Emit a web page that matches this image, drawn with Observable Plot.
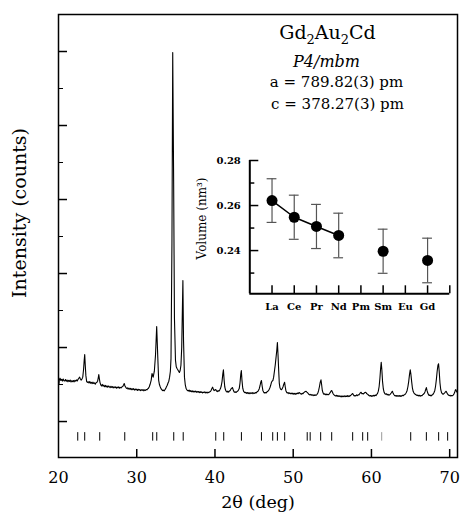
<!DOCTYPE html>
<html><head><meta charset="utf-8">
<script src="https://cdn.jsdelivr.net/npm/d3@7"></script>
<script src="https://cdn.jsdelivr.net/npm/@observablehq/plot@0.6"></script>
<style>
body{margin:0;background:#fff;}
#wrap{position:relative;width:460px;height:517px;overflow:hidden;}
#inset{position:absolute;left:190px;top:145px;}
</style></head><body><div id="wrap"><div id="main"></div><div id="inset"></div></div>
<script>
// Powder pattern: [2θ (deg), intensity (arb. counts)]
const pattern = [
[20.0,600],[20.05,500],[20.1,560],[20.2,585],[20.3,555],[20.4,570],[20.5,548],[20.6,575],[20.7,552],[20.8,548],
[20.9,568],[21.0,545],[21.1,560],[21.2,538],[21.3,556],[21.4,542],[21.5,560],[21.6,535],[21.7,552],[21.8,540],
[21.9,555],[22.0,536],[22.1,558],[22.2,545],[22.3,562],[22.4,548],[22.5,570],[22.6,585],[22.7,600],[22.8,575],
[22.9,560],[23.0,575],[23.1,600],[23.2,700],[23.28,820],[23.35,905],[23.42,760],[23.5,620],[23.6,540],[23.7,528],
[23.8,538],[23.9,520],[24.0,540],[24.1,518],[24.2,530],[24.3,512],[24.4,532],[24.5,515],[24.6,522],[24.7,505],
[24.8,525],[24.9,530],[25.0,545],[25.08,590],[25.15,635],[25.22,580],[25.3,530],[25.4,495],[25.5,480],[25.6,502],
[25.7,478],[25.8,492],[25.9,470],[26.0,488],[26.1,468],[26.2,482],[26.3,462],[26.4,480],[26.5,470],[26.6,458],
[26.7,476],[26.8,462],[26.9,472],[27.0,455],[27.1,470],[27.2,458],[27.3,468],[27.4,450],[27.5,466],[27.6,455],
[27.7,468],[27.8,450],[27.9,462],[28.0,455],[28.1,468],[28.2,472],[28.3,490],[28.4,514],[28.5,480],[28.6,462],
[28.7,448],[28.8,455],[28.9,438],[29.0,452],[29.1,436],[29.2,448],[29.3,430],[29.4,445],[29.5,432],[29.6,444],
[29.7,425],[29.8,440],[29.9,428],[30.0,438],[30.1,420],[30.2,436],[30.3,425],[30.4,432],[30.5,418],[30.6,430],
[30.7,420],[30.8,433],[30.9,415],[31.0,428],[31.1,420],[31.2,432],[31.3,428],[31.4,440],[31.5,450],[31.6,470],
[31.7,500],[31.85,560],[31.95,649],[32.1,600],[32.25,680],[32.4,900],[32.55,1284],[32.68,900],[32.8,560],[32.9,500],
[33.0,470],[33.1,445],[33.2,430],[33.3,418],[33.4,425],[33.5,415],[33.6,430],[33.7,445],[33.8,470],[33.9,490],
[34.0,520],[34.1,545],[34.2,600],[34.3,680],[34.38,850],[34.5,2400],[34.6,4986],[34.72,3200],[34.82,1400],[34.95,830],
[35.05,740],[35.15,716],[35.25,700],[35.35,680],[35.45,662],[35.55,690],[35.65,760],[35.75,1000],[35.9,1905],[35.98,1100],
[36.1,600],[36.2,500],[36.3,450],[36.4,428],[36.5,420],[36.6,412],[36.7,425],[36.8,405],[36.9,418],[37.0,402],
[37.1,415],[37.2,398],[37.3,412],[37.4,400],[37.5,410],[37.6,395],[37.7,408],[37.8,398],[37.9,405],[38.0,390],
[38.1,404],[38.2,392],[38.3,400],[38.4,386],[38.5,398],[38.6,390],[38.7,402],[38.8,388],[38.9,396],[39.0,385],
[39.1,398],[39.2,390],[39.3,400],[39.4,405],[39.5,420],[39.6,445],[39.7,464],[39.8,435],[39.9,418],[40.0,425],
[40.1,432],[40.2,412],[40.3,405],[40.4,418],[40.5,410],[40.6,425],[40.7,445],[40.8,480],[40.9,540],[41.0,640],
[41.08,699],[41.17,560],[41.25,470],[41.35,425],[41.45,405],[41.55,398],[41.65,410],[41.75,398],[41.85,412],[41.95,420],
[42.05,440],[42.15,452],[42.24,459],[42.33,430],[42.42,405],[42.5,395],[42.6,402],[42.7,392],[42.8,405],[42.9,410],
[43.0,425],[43.1,445],[43.2,520],[43.3,640],[43.37,689],[43.45,560],[43.55,450],[43.65,410],[43.75,395],[43.85,388],
[43.95,395],[44.05,380],[44.15,392],[44.25,378],[44.35,390],[44.45,375],[44.55,388],[44.65,380],[44.75,392],[44.85,376],
[44.95,388],[45.05,380],[45.15,392],[45.25,385],[45.35,398],[45.45,405],[45.55,418],[45.65,440],[45.75,480],[45.85,530],
[45.94,554],[46.03,480],[46.12,420],[46.22,398],[46.32,385],[46.42,392],[46.52,385],[46.62,398],[46.72,405],[46.82,418],
[46.92,432],[47.02,455],[47.12,490],[47.22,530],[47.32,548],[47.4,554],[47.5,600],[47.6,680],[47.7,760],[47.8,860],
[47.9,960],[47.98,1068],[48.06,900],[48.14,700],[48.22,520],[48.3,460],[48.4,435],[48.5,430],[48.6,445],[48.7,470],
[48.8,505],[48.9,531],[48.98,470],[49.06,420],[49.15,395],[49.25,385],[49.35,392],[49.45,378],[49.55,388],[49.65,375],
[49.75,385],[49.85,372],[49.95,383],[50.05,370],[50.15,380],[50.25,368],[50.35,382],[50.45,372],[50.55,385],[50.65,378],
[50.75,392],[50.85,385],[50.95,375],[51.05,370],[51.15,382],[51.25,376],[51.35,390],[51.45,398],[51.55,405],[51.65,409],
[51.75,398],[51.85,388],[51.95,372],[52.05,365],[52.15,358],[52.25,368],[52.35,355],[52.45,362],[52.55,350],[52.65,362],
[52.75,352],[52.85,360],[52.95,355],[53.05,368],[53.15,385],[53.25,420],[53.35,470],[53.45,530],[53.55,564],[53.63,500],
[53.72,420],[53.82,385],[53.92,368],[54.02,375],[54.12,362],[54.22,372],[54.32,360],[54.42,368],[54.52,362],[54.62,375],
[54.72,390],[54.82,410],[54.92,419],[55.02,395],[55.12,372],[55.22,360],[55.32,352],[55.42,345],[55.52,355],[55.62,340],
[55.72,352],[55.82,338],[55.92,348],[56.02,335],[56.12,346],[56.22,332],[56.32,345],[56.42,336],[56.52,348],[56.62,335],
[56.72,345],[56.82,338],[56.92,350],[57.02,336],[57.12,348],[57.22,340],[57.32,352],[57.42,360],[57.52,372],[57.6,378],
[57.7,360],[57.8,345],[57.9,352],[58.0,345],[58.1,360],[58.2,350],[58.3,362],[58.4,358],[58.5,375],[58.6,390],
[58.68,396],[58.78,375],[58.88,378],[58.98,372],[59.08,385],[59.18,392],[59.28,396],[59.38,378],[59.48,370],[59.58,362],
[59.68,352],[59.78,345],[59.88,352],[59.98,340],[60.08,350],[60.18,342],[60.28,355],[60.38,345],[60.48,358],[60.58,350],
[60.68,365],[60.78,380],[60.88,410],[60.98,470],[61.08,580],[61.16,700],[61.25,801],[61.33,700],[61.42,540],[61.52,440],
[61.62,395],[61.72,375],[61.82,368],[61.92,375],[62.02,360],[62.12,368],[62.22,355],[62.32,362],[62.42,370],[62.52,385],
[62.6,400],[62.68,409],[62.76,385],[62.86,365],[62.96,352],[63.06,345],[63.16,352],[63.26,340],[63.36,350],[63.46,342],
[63.56,352],[63.66,338],[63.76,350],[63.86,342],[63.96,355],[64.06,348],[64.16,360],[64.26,365],[64.36,375],[64.46,392],
[64.56,420],[64.66,470],[64.76,540],[64.86,630],[64.96,699],[65.04,640],[65.14,540],[65.24,450],[65.34,405],[65.44,385],
[65.54,372],[65.64,365],[65.74,358],[65.84,350],[65.94,358],[66.04,345],[66.14,355],[66.24,342],[66.34,352],[66.44,348],
[66.54,360],[66.64,368],[66.74,380],[66.84,400],[66.94,435],[67.02,459],[67.1,420],[67.2,385],[67.3,362],[67.4,352],
[67.5,358],[67.6,345],[67.7,355],[67.8,362],[67.9,372],[68.0,392],[68.1,420],[68.2,480],[68.3,570],[68.4,680],
[68.5,760],[68.58,780],[68.66,680],[68.76,520],[68.86,430],[68.96,390],[69.06,375],[69.16,368],[69.26,378],[69.36,388],
[69.46,400],[69.55,409],[69.64,390],[69.74,370],[69.84,358],[69.94,350],[70.04,355],[70.14,345],[70.24,352],[70.34,348],
[70.44,358],[70.54,370],[70.64,395],[70.72,425],[70.78,432],[70.86,410],[70.94,398],[71.0,405]
];
// Calculated reflection positions (2θ)
const reflections = [22.46,23.35,25.27,28.47,32.04,32.56,34.73,35.94,40.10,41.12,43.38,45.94,47.38,47.98,48.91,
  51.79,52.17,53.51,54.92,57.60,58.88,59.52,65.02,67.02,68.59,69.74];
const weakReflections = [61.31];
const xTicks = [20,30,40,50,60,70];
const xInnerTicks = [30,40,50,60,70];
const yMajor = [0,1000,2000,3000,4000,5000];
const yMinor = [500,1500,2500,3500,4500];
const xLabel = "2θ (deg)";
const yLabel = "Intensity (counts)";
const compound = "Gd2Au2Cd";
const spaceGroup = "P4/mbm";
const cellA = "a = 789.82(3) pm";
const cellC = "c = 378.27(3) pm";

// Inset: cell volume for RE2Au2Cd
const elements = ["La","Ce","Pr","Nd","Pm","Sm","Eu","Gd"];
const volumes = [0.2622,0.2548,0.2507,0.2467,null,0.2397,null,0.2356];
const volumeErrors = [0.0097,0.0098,0.0098,0.0099,null,0.0098,null,0.0099];
const insetYMajor = [0.24,0.26,0.28];
const insetYMinor = [0.23,0.25,0.27];
const insetXTicks = [1,2,3,4,5,6,7,8,9];
const insetYLabel = "Volume (nm³)";

const font = "'DejaVu Serif', serif";

const main = Plot.plot({
  width: 460, height: 517,
  marginLeft: 58, marginRight: 3, marginTop: 14, marginBottom: 60,
  style: {fontFamily: font, fontSize: "15px", background: "transparent", color: "black"},
  x: {domain: [20, 71]},
  y: {domain: [-486, 5500]},
  marks: [
    Plot.axisX({ticks: xTicks, tickSize: 0, tickPadding: 14, tickFormat: d => String(d), fontSize: 16, label: null}),
    Plot.axisY({ticks: [], label: null}),
    Plot.tickY(yMajor, {y: d => d, insetRight: 390, stroke: "black", strokeWidth: 1.5}),
    Plot.tickY(yMinor, {y: d => d, insetRight: 394, stroke: "black", strokeWidth: 1}),
    Plot.tickX(xInnerTicks, {x: d => d, insetTop: 435, stroke: "black", strokeWidth: 1.5}),
    Plot.ruleX(reflections, {x: d => d, y1: -265, y2: -150, stroke: "black", strokeWidth: 1}),
    Plot.ruleX(weakReflections, {x: d => d, y1: -265, y2: -150, stroke: "#999", strokeWidth: 1}),
    Plot.line(pattern, {x: d => d[0], y: d => d[1], stroke: "black", strokeWidth: 1.1}),
    Plot.frame({stroke: "black", strokeWidth: 1.5}),
    Plot.text([yLabel], {text: d => d, frameAnchor: "left", textAnchor: "middle", lineAnchor: "middle", rotate: -90, dx: -38.5, dy: -23, fontSize: 19}),
    Plot.text([xLabel], {text: d => d, frameAnchor: "bottom", lineAnchor: "middle", dy: 45, fontSize: 17.5}),
    Plot.text([compound], {text: d => d, frameAnchor: "top", lineAnchor: "middle", dx: 69.5, dy: 18, fontSize: 19}),
    Plot.text([spaceGroup], {text: d => d, frameAnchor: "top", lineAnchor: "middle", dx: 68.5, dy: 47, fontSize: 16, fontStyle: "italic"}),
    Plot.text([cellA], {text: d => d, frameAnchor: "top", lineAnchor: "middle", dx: 78.5, dy: 68, fontSize: 15}),
    Plot.text([cellC], {text: d => d, frameAnchor: "top", lineAnchor: "middle", dx: 79.5, dy: 90, fontSize: 15})
  ]
});
document.getElementById("main").appendChild(main);

// subscripts for the chemical formula
d3.select(main).selectAll("text").filter(function() { return this.textContent === compound; }).each(function() {
  const t = d3.select(this);
  t.text(null);
  let sub = false;
  for (const part of compound.split(/(\d)/).filter(s => s.length)) {
    const isDigit = /\d/.test(part);
    const span = t.append("tspan").text(part);
    if (isDigit) { span.attr("font-size", 13).attr("dy", 5); sub = true; }
    else if (sub) { span.attr("dy", -5); sub = false; }
  }
});

const vol = elements.map((e, i) => ({i: i + 1, e, v: volumes[i], err: volumeErrors[i]})).filter(d => d.v != null);
const connected = vol.filter(d => d.i <= 4);
const yMin = 0.2208;

const inset = Plot.plot({
  width: 265, height: 175,
  marginLeft: 59.3, marginRight: 5.7, marginTop: 15, marginBottom: 26.7,
  style: {fontFamily: font, fontSize: "10px", background: "transparent", color: "black"},
  x: {domain: [0, 9]},
  y: {domain: [yMin, 0.28]},
  marks: [
    Plot.axisY({ticks: insetYMajor, tickSize: 0, tickPadding: 9, tickFormat: d3.format(".2f"), fontWeight: "bold", fontSize: 10, label: null}),
    Plot.axisX({ticks: [1,2,3,4,5,6,7,8], tickSize: 0, tickPadding: 9, tickFormat: i => elements[i - 1], fontWeight: "bold", fontSize: 10, label: null}),
    Plot.tickY(insetYMajor, {y: d => d, insetRight: 191, stroke: "black", strokeWidth: 1.5}),
    Plot.tickY(insetYMinor, {y: d => d, insetRight: 195, stroke: "black", strokeWidth: 1.5}),
    Plot.tickX(insetXTicks, {x: d => d, insetTop: 125.3, stroke: "black", strokeWidth: 1.5}),
    Plot.ruleX([0], {x: d => d, stroke: "black", strokeWidth: 2}),
    Plot.ruleY([yMin], {y: d => d, stroke: "black", strokeWidth: 2}),
    Plot.ruleX(vol, {x: "i", y1: d => d.v - d.err, y2: d => d.v + d.err, stroke: "#555", strokeWidth: 1.2}),
    Plot.ruleY(vol, {y: d => d.v - d.err, x1: d => d.i - 0.22, x2: d => d.i + 0.22, stroke: "#555", strokeWidth: 1.2}),
    Plot.ruleY(vol, {y: d => d.v + d.err, x1: d => d.i - 0.22, x2: d => d.i + 0.22, stroke: "#555", strokeWidth: 1.2}),
    Plot.line(connected, {x: "i", y: "v", stroke: "black", strokeWidth: 1.5}),
    Plot.dot(vol, {x: "i", y: "v", r: 5.5, fill: "black", stroke: "none"}),
    Plot.text([insetYLabel], {text: d => d, frameAnchor: "left", textAnchor: "middle", lineAnchor: "middle", rotate: -90, dx: -47.6, dy: -8.7, fontSize: 12})
  ]
});
document.getElementById("inset").appendChild(inset);
</script>
</body></html>
